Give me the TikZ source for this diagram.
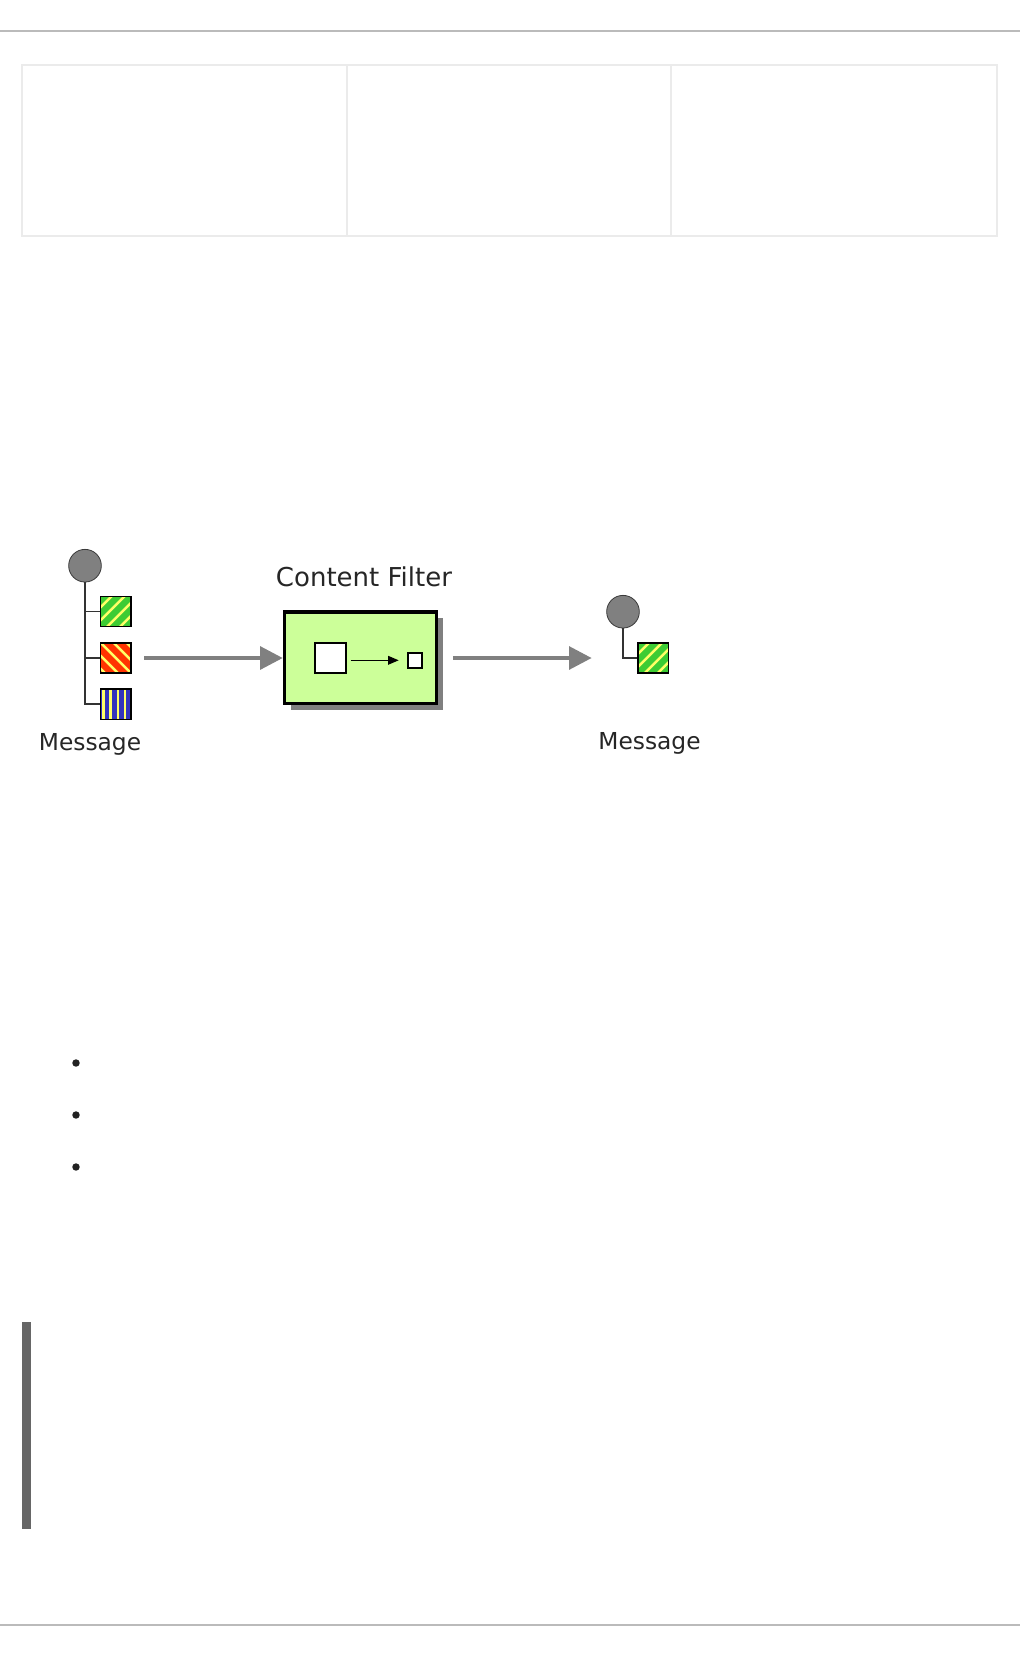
\documentclass[tikz,border=0pt]{standalone}
\usepackage{fontspec}
\setmainfont{DejaVu Sans}
\usetikzlibrary{arrows.meta,shadows}
\definecolor{rulegray}{HTML}{BBBBBB}
\definecolor{tablegray}{HTML}{EBEBEB}
\definecolor{bargray}{HTML}{666666}
\definecolor{bulletblack}{HTML}{222222}
\definecolor{msggray}{HTML}{808080}
\definecolor{msgborder}{HTML}{3A3A3A}
\definecolor{treegray}{HTML}{333333}
\definecolor{stripgreen}{HTML}{3DCC33}
\definecolor{stripyellow}{HTML}{FFFF66}
\definecolor{stripred}{HTML}{FF3300}
\definecolor{stripblue}{HTML}{3333BB}
\definecolor{filtergreen}{HTML}{CCFF99}
\definecolor{arrowgray}{HTML}{808080}
\begin{document}
\begin{tikzpicture}[x=0.75pt,y=-0.75pt,
  msgcircle/.style={circle, fill=msggray, draw=msgborder, line width=0.6pt, minimum size=24.5pt, inner sep=0pt},
  sqbox/.style={rectangle, draw=black, line width=1.1pt, minimum size=22.8pt, inner sep=0pt},
  greenstripes/.style={fill=stripgreen, path picture={
     \foreach \d in {-45.5,-32.5,-19.5,-6.5,6.5,19.5,32.5,45.5}
       \draw[stripyellow, line width=1.9pt]
         ([shift={(\d-22,22)}]path picture bounding box.center) --
         ([shift={(\d+22,-22)}]path picture bounding box.center);}},
  redstripes/.style={fill=stripred, path picture={
     \foreach \d in {-39,-26,-13,0,13,26,39}
       \draw[stripyellow, line width=1.9pt]
         ([shift={(\d-22,-22)}]path picture bounding box.center) --
         ([shift={(\d+22,22)}]path picture bounding box.center);}},
  bluestripes/.style={fill=stripblue, path picture={
     \foreach \d in {-12.5,-5.2,2.1,9.4}
       \draw[stripyellow, line width=1.8pt]
         ([shift={(\d,-20)}]path picture bounding box.center) --
         ([shift={(\d,20)}]path picture bounding box.center);}},
  treeline/.style={draw=treegray, line width=1.3pt},
  msglabel/.style={font=\fontsize{17.5pt}{20pt}\selectfont, text=black!85, inner sep=0pt},
  titlelabel/.style={font=\fontsize{19.5pt}{22pt}\selectfont, text=black!85, inner sep=0pt},
  filterbox/.style={rectangle, fill=filtergreen, draw=black, line width=2.6pt,
     minimum width=114pt, minimum height=68.6pt, inner sep=0pt,
     drop shadow={shadow xshift=5pt, shadow yshift=-5pt, fill=arrowgray, opacity=1}},
  innersq/.style={rectangle, draw=black, fill=white, line width=1.4pt, inner sep=0pt},
  grayarrow/.style={draw=arrowgray, line width=3pt, -{Triangle[length=17pt,width=17pt]}},
  innerarrow/.style={draw=black, line width=1.1pt, -{Triangle[length=8pt,width=6.5pt]}}
]
\useasboundingbox (0,0) rectangle (1020,1656);
\fill[white] (0,0) rectangle (1020,1656);

% page rules
\draw[rulegray, line width=1.5pt] (0,31) -- (1020,31);
\draw[rulegray, line width=1.5pt] (0,1625) -- (1020,1625);

% empty table
\draw[tablegray, line width=1.5pt] (21.7,64.7) rectangle (997,235.7);
\draw[tablegray, line width=1pt] (347,64.7) -- (347,235.7);
\draw[tablegray, line width=1pt] (671,64.7) -- (671,235.7);

% bullets
\foreach \yy in {1063,1115,1167}
  \fill[bulletblack] (76,\yy) circle[radius=2.8pt];

% side bar
\fill[bargray] (21.5,1322) rectangle (30.5,1528.5);

% left message
\node[msgcircle] (c1) at (85,565.7) {};
\node[sqbox, greenstripes] (g1) at (115.8,611.5) {};
\node[sqbox, redstripes] (r1) at (115.8,658) {};
\node[sqbox, bluestripes] (b1) at (115.8,704.3) {};
\draw[treeline] (c1.south) |- (b1.west);
\draw[treeline] (c1.south |- g1.west) -- (g1.west);
\draw[treeline] (c1.south |- r1.west) -- (r1.west);
\node[msglabel, anchor=base] (l1) at (90,750) {Message};

% content filter
\node[filterbox] (filter) at (360.5,657.5) {};
\node[titlelabel, anchor=base] (title) at (364,586.7) {Content Filter};
\node[innersq, minimum size=22.8pt] (bigsq) at (330.5,658.2) {};
\node[innersq, minimum size=11pt] (smsq) at (415,660.3) {};
\draw[innerarrow, shorten <=3pt, shorten >=6pt] (bigsq.east |- smsq.west) -- (smsq.west);

% gray arrows
\draw[grayarrow, shorten <=9.5pt] (r1.east) -- (r1.east -| filter.west);
\coordinate (in2) at (591.7,658);
\draw[grayarrow, shorten <=10.9pt] (filter.east |- in2) -- (in2);

% right message
\node[msgcircle] (c2) at (623,611.7) {};
\node[sqbox, greenstripes] (g2) at (653.3,658) {};
\draw[treeline] (c2.south) |- (g2.west);
\node[msglabel, anchor=base] (l2) at (649.5,749) {Message};
\end{tikzpicture}
\end{document}
